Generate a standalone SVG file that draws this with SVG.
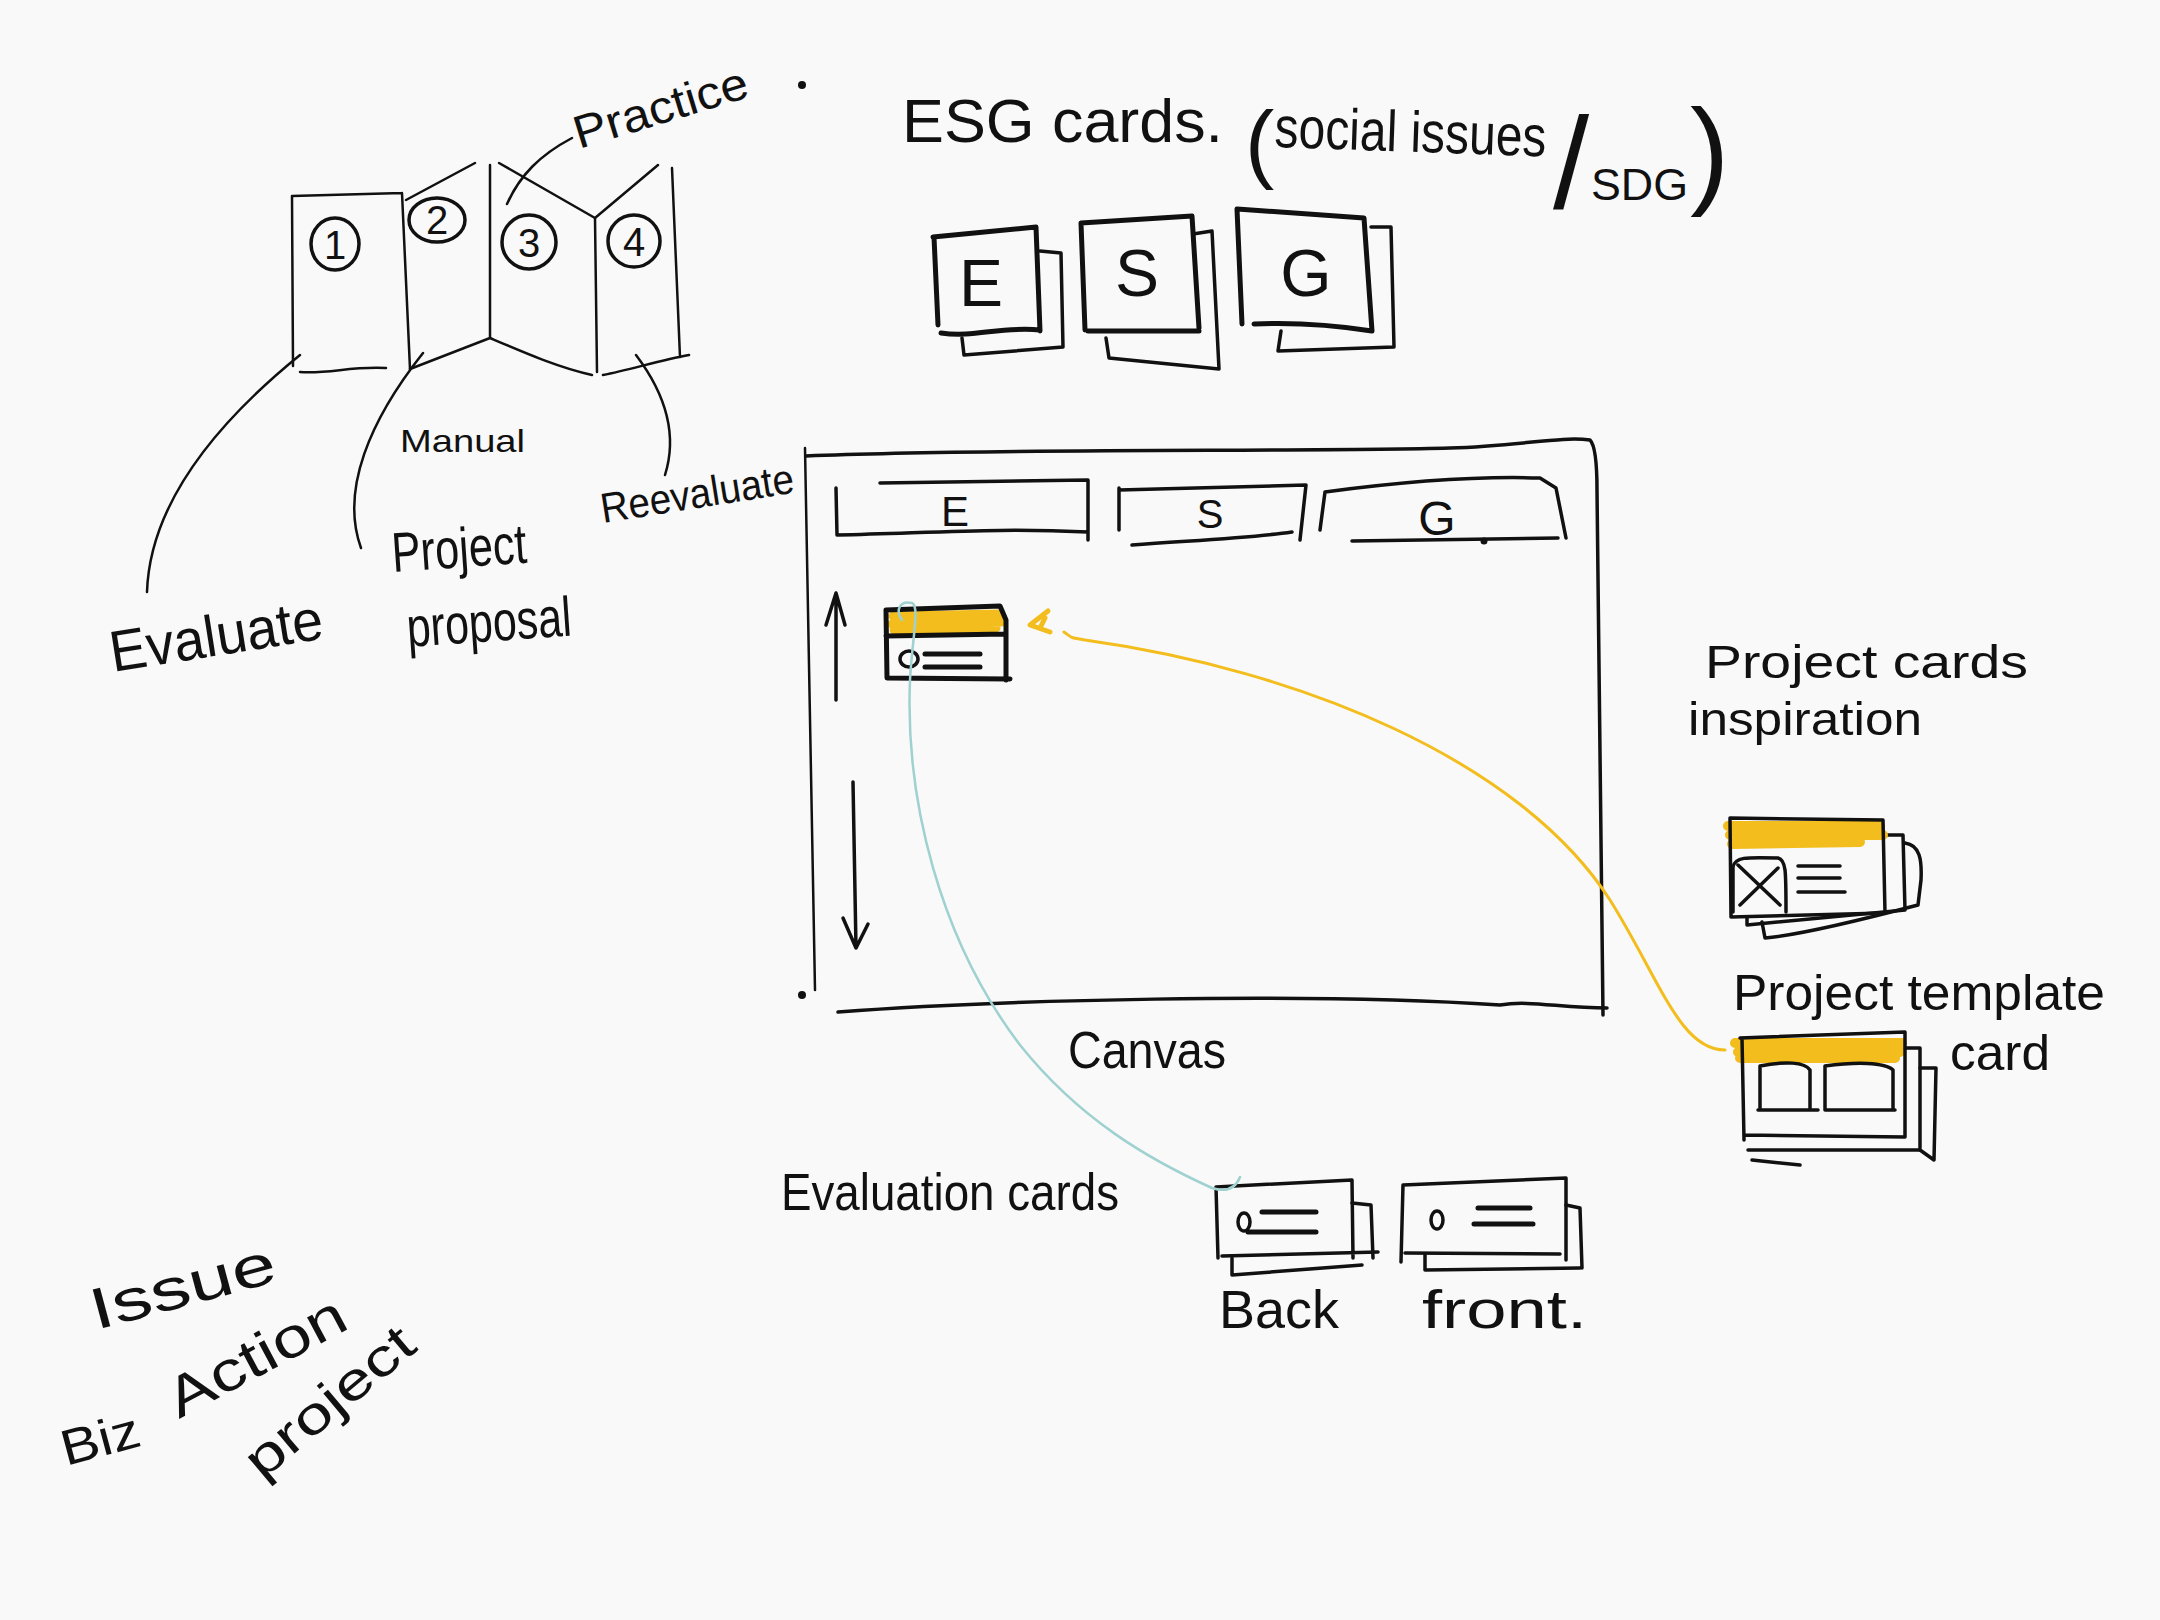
<svg xmlns="http://www.w3.org/2000/svg" width="2160" height="1620" viewBox="0 0 2160 1620">
<style>
.ink{fill:none;stroke:#111;stroke-width:3.5;stroke-linecap:round;stroke-linejoin:round}
.thin{fill:none;stroke:#111;stroke-width:2.5;stroke-linecap:round;stroke-linejoin:round}
.bold{fill:none;stroke:#111;stroke-width:5;stroke-linecap:round;stroke-linejoin:round}
.yel{fill:none;stroke:#f2bd1d;stroke-linecap:round;stroke-linejoin:round}
.teal{fill:none;stroke:#9ed1cf;stroke-width:2.5;stroke-linecap:round}
text{font-family:"Liberation Sans",Arial,sans-serif;fill:#111}
.dot{fill:#111}
</style>
<rect width="2160" height="1620" fill="#f9f9f9"/>

<g id="manual-booklet">
  <path class="thin" d="M292,196 L402,193 M292,196 L293,366 M300,372 C330,374 350,366 386,368 M402,193 L410,369"/>
  <path class="thin" d="M406,200 L475,163 M410,369 L490,338 M490,165 L490,338"/>
  <path class="thin" d="M499,163 L595,218 M490,338 C530,355 560,368 592,375 M595,218 L597,372"/>
  <path class="thin" d="M595,218 L658,165 M672,168 L680,357 M603,375 C630,370 660,360 689,355"/>
  <ellipse class="ink" cx="335" cy="244" rx="24" ry="26"/>
  <ellipse class="ink" cx="437" cy="220" rx="28" ry="22"/>
  <ellipse class="ink" cx="529" cy="242" rx="27" ry="27"/>
  <ellipse class="ink" cx="634" cy="241" rx="26" ry="26"/>
  <text x="335" y="259" font-size="40" text-anchor="middle">1</text>
  <text x="437" y="234" font-size="40" text-anchor="middle">2</text>
  <text x="529" y="257" font-size="40" text-anchor="middle">3</text>
  <text x="634" y="256" font-size="40" text-anchor="middle">4</text>
  <text x="400" y="452" font-size="32" textLength="125" lengthAdjust="spacingAndGlyphs">Manual</text>
  <circle class="dot" cx="802" cy="85" r="4"/>
</g>

<g id="label-practice"><text x="579" y="149" font-size="46" textLength="180" lengthAdjust="spacingAndGlyphs" transform="rotate(-17 579 149)">Practice</text></g>
<g id="label-evaluate"><text x="113" y="672" font-size="58" textLength="215" lengthAdjust="spacingAndGlyphs" transform="rotate(-9 113 672)">Evaluate</text></g>
<g id="label-project-proposal">
  <text x="393" y="572" font-size="56" textLength="135" lengthAdjust="spacingAndGlyphs" transform="rotate(-4 393 572)">Project</text>
  <text x="408" y="647" font-size="56" textLength="165" lengthAdjust="spacingAndGlyphs" transform="rotate(-4 408 647)">proposal</text>
</g>
<g id="label-reevaluate"><text x="603" y="523" font-size="42" textLength="195" lengthAdjust="spacingAndGlyphs" transform="rotate(-9 603 523)">Reevaluate</text></g>

<g id="esg-title">
  <text x="902" y="142" font-size="62" textLength="321" lengthAdjust="spacingAndGlyphs">ESG cards.</text>
  <text x="1245" y="172" font-size="88">(</text>
  <text x="1274" y="147" font-size="58" textLength="272" lengthAdjust="spacingAndGlyphs" transform="rotate(2 1274 147)">social issues</text>
  <text x="1553" y="208" font-size="130">/</text>
  <text x="1591" y="200" font-size="44" textLength="97" lengthAdjust="spacingAndGlyphs">SDG</text>
  <text x="1690" y="192" font-size="118">)</text>
</g>

<g id="esg-card-e">
  <path class="ink" d="M1040,251 L1061,253 L1063,347 L964,355 L962,338"/>
  <path class="bold" d="M933,237 L1036,227 L1040,331 M934,237 L938,325 M941,333 C975,338 1000,326 1040,330"/>
  <text x="981" y="306" font-size="66" text-anchor="middle">E</text>
</g>
<g id="esg-card-s">
  <path class="ink" d="M1193,234 L1212,231 L1219,369 L1109,358 L1106,338"/>
  <path class="bold" d="M1081,223 L1192,216 L1199,328 M1081,223 L1085,330 M1088,331 L1199,331"/>
  <text x="1137" y="296" font-size="66" text-anchor="middle">S</text>
</g>
<g id="esg-card-g">
  <path class="ink" d="M1371,227 L1391,227 L1394,347 L1278,351 L1281,331"/>
  <path class="bold" d="M1237,209 L1364,218 L1372,331 M1237,209 L1242,324 M1254,324 C1300,322 1340,326 1372,331"/>
  <text x="1306" y="296" font-size="66" text-anchor="middle">G</text>
</g>

<g id="canvas">
  <path class="ink" d="M806,456 C1000,448 1300,452 1450,448 C1520,446 1560,436 1590,440 C1596,446 1597,470 1597,490 L1603,1015"/>
  <path class="thin" d="M805,448 L815,990"/>
  <path class="ink" d="M838,1012 C1000,1000 1300,992 1500,1005 C1530,1000 1560,1008 1607,1008"/>
  <circle class="dot" cx="802" cy="995" r="4"/>
  <path class="ink" d="M880,483 L1088,480 L1088,540 M836,488 L837,535 C950,532 1000,528 1088,532"/>
  <text x="955" y="526" font-size="42" text-anchor="middle">E</text>
  <path class="ink" d="M1119,488 L1119,530 M1119,490 L1306,485 L1300,540 M1132,545 C1200,540 1250,538 1292,532"/>
  <text x="1210" y="528" font-size="40" text-anchor="middle">S</text>
  <path class="ink" d="M1325,492 L1320,530 M1325,492 C1400,482 1480,476 1540,478 L1556,488 L1566,538 M1352,541 L1558,538"/>
  <text x="1437" y="535" font-size="48" text-anchor="middle">G</text>
  <circle class="dot" cx="1484" cy="541" r="3.5"/>
  <path class="ink" d="M836,700 L836,593 M826,625 L836,593 L845,625"/>
  <path class="ink" d="M853,782 L856,948 M843,918 L856,948 L868,924"/>
</g>

<g id="canvas-card">
  <path class="yel" stroke-width="9" d="M893,616 L1000,614 M892,624 L1002,622 M894,630 L996,628"/>
  <path class="bold" d="M886,610 L1000,606 L1006,620 L1006,680 M886,610 L887,678 L1010,679 M886,636 L1006,634"/>
  <ellipse class="ink" cx="909" cy="659" rx="9" ry="8"/>
  <path class="bold" d="M925,654 L980,654 M925,667 L980,667"/>
</g>

<g id="inspiration-cards">
  <text x="1705" y="678" font-size="46" textLength="323" lengthAdjust="spacingAndGlyphs">Project cards</text>
  <text x="1688" y="735" font-size="46" textLength="234" lengthAdjust="spacingAndGlyphs">inspiration</text>
  <path class="ink" d="M1905,843 C1920,845 1922,860 1921,880 L1918,905 C1880,915 1800,935 1765,938 L1762,922"/>
  <path class="ink" d="M1885,835 L1903,835 L1905,910 L1885,912 M1747,918 L1747,925 L1905,910"/>
  <path class="yel" stroke-width="10" d="M1728,826 L1880,826 M1730,835 L1883,835 M1732,844 L1860,842"/>
  <path class="ink" d="M1730,818 L1883,820 L1885,913 M1730,818 L1731,917 L1885,913"/>
  <path class="ink" d="M1733,912 L1733,867 C1735,857 1745,857 1778,858 C1786,860 1786,870 1786,912 M1738,865 L1780,905 M1740,905 L1778,868"/>
  <path class="ink" d="M1798,866 L1840,866 M1798,878 L1840,878 M1798,892 L1845,892"/>
</g>

<g id="template-card">
  <text x="1733" y="1010" font-size="50" textLength="372" lengthAdjust="spacingAndGlyphs">Project template</text>
  <text x="1950" y="1070" font-size="50" textLength="100" lengthAdjust="spacingAndGlyphs">card</text>
  <path class="ink" d="M1920,1068 L1936,1068 L1934,1160 L1920,1150 M1752,1160 L1800,1165"/>
  <path class="ink" d="M1905,1048 L1920,1048 L1920,1148 M1748,1150 L1920,1150"/>
  <path class="yel" stroke-width="10" d="M1735,1043 L1902,1043 M1738,1052 L1900,1052 M1740,1058 L1895,1058"/>
  <path class="ink" d="M1740,1038 L1905,1032 L1905,1137 M1742,1038 L1744,1140 M1745,1135 L1905,1137"/>
  <path class="ink" d="M1760,1110 L1760,1066 C1785,1061 1805,1062 1810,1070 L1810,1110 M1758,1110 L1818,1110"/>
  <path class="ink" d="M1825,1110 L1825,1066 C1855,1062 1885,1062 1893,1070 L1893,1110 M1825,1110 L1895,1110"/>
</g>

<g id="canvas-label"><text x="1068" y="1068" font-size="52" textLength="158" lengthAdjust="spacingAndGlyphs">Canvas</text></g>

<g id="evaluation-cards">
  <text x="781" y="1210" font-size="52" textLength="338" lengthAdjust="spacingAndGlyphs">Evaluation cards</text>
  <path class="ink" d="M1352,1203 L1371,1205 L1373,1258 M1232,1258 L1232,1275 L1362,1265"/>
  <path class="ink" d="M1216,1187 L1352,1180 L1353,1258 M1216,1187 L1218,1258 M1222,1256 L1378,1252"/>
  <ellipse class="ink" cx="1244" cy="1222" rx="6" ry="9"/>
  <path class="bold" d="M1262,1212 L1316,1212 M1248,1232 L1316,1232"/>
  <text x="1219" y="1328" font-size="54" textLength="120" lengthAdjust="spacingAndGlyphs">Back</text>
  <path class="ink" d="M1566,1205 L1580,1208 L1582,1268 M1425,1255 L1425,1270 L1580,1268"/>
  <path class="ink" d="M1403,1185 L1566,1178 L1566,1260 M1403,1185 L1401,1262 M1405,1253 L1560,1254"/>
  <ellipse class="ink" cx="1437" cy="1220" rx="6" ry="9"/>
  <path class="bold" d="M1478,1208 L1530,1208 M1474,1224 L1533,1224"/>
  <text x="1422" y="1328" font-size="54" textLength="165" lengthAdjust="spacingAndGlyphs">front.</text>
</g>

<g id="issue-note">
  <text x="96" y="1330" font-size="58" textLength="190" lengthAdjust="spacingAndGlyphs" transform="rotate(-15 96 1330)">Issue</text>
  <text x="66" y="1466" font-size="50" textLength="80" lengthAdjust="spacingAndGlyphs" transform="rotate(-15 66 1466)">Biz</text>
  <text x="179" y="1419" font-size="56" textLength="195" lengthAdjust="spacingAndGlyphs" transform="rotate(-28 179 1419)">Action</text>
  <text x="262" y="1481" font-size="52" textLength="205" lengthAdjust="spacingAndGlyphs" transform="rotate(-40 262 1481)">project</text>
</g>

<g id="connectors">
  <path class="thin" d="M572,138 C540,155 520,175 507,204"/>
  <path class="thin" d="M300,355 C220,420 150,500 147,592"/>
  <path class="thin" d="M423,353 C370,420 340,490 361,548"/>
  <path class="thin" d="M636,355 C670,400 676,440 665,475"/>
  <path class="yel" stroke-width="3" d="M1064,632 C1075,640 1070,637 1085,640 C1300,670 1520,760 1610,900 C1660,980 1680,1050 1725,1050"/>
  <path class="yel" stroke-width="5" d="M1048,611 L1030,625 L1050,632 M1045,618 L1040,628"/>
  <path class="teal" d="M902,620 C895,610 900,600 912,603 C920,606 912,640 910,680 C905,800 940,940 1020,1045 C1080,1120 1150,1160 1212,1188 C1225,1192 1235,1190 1240,1177"/>
</g>
</svg>
